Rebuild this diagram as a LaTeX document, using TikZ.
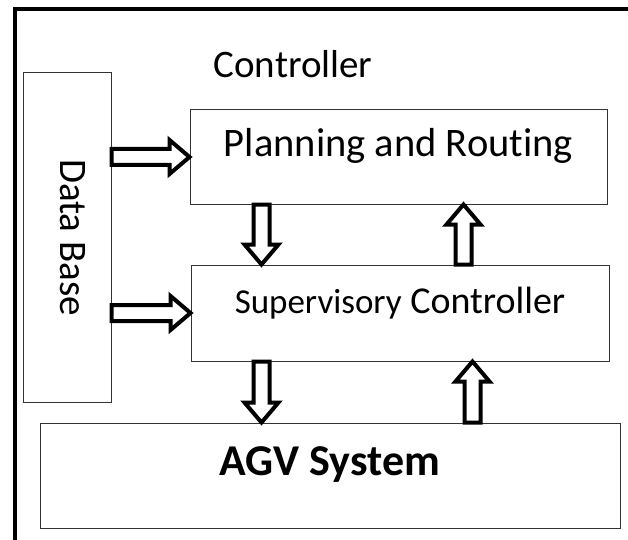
\documentclass[tikz,border=0pt]{standalone}
\usepackage{fontspec}
\setmainfont{Carlito}[Ligatures=NoCommon]
\usetikzlibrary{calc}

\tikzset{
  box/.style={draw=black!80, line width=1pt, inner sep=0pt,
    text height=20pt, text depth=20pt},
  % hollow block arrow between two points
  blockarrow/.style={draw, line width=4pt, fill=white, line join=miter,
    to path={
      ($(\tikztostart)!8pt!90:(\tikztotarget)$)
      -- ($(\tikztotarget)!20pt!(\tikztostart)!8pt!270:(\tikztostart)$)
      -- ($(\tikztotarget)!20pt!(\tikztostart)!17pt!270:(\tikztostart)$)
      -- (\tikztotarget)
      -- ($(\tikztotarget)!20pt!(\tikztostart)!17pt!90:(\tikztostart)$)
      -- ($(\tikztotarget)!20pt!(\tikztostart)!8pt!90:(\tikztostart)$)
      -- ($(\tikztostart)!8pt!270:(\tikztotarget)$)
      -- cycle}}
}

\begin{document}
\begin{tikzpicture}[x=1pt,y=1pt]
	\clip (0,0) rectangle (628,539);
	\fill[white] (0,0) rectangle (628,539);
	% outer frame, runs off the page on the right and bottom
	\draw[line width=4pt] (14.5,-20) rectangle (660,529.5);

	\node[anchor=base west, font=\fontsize{39}{46}\selectfont] (title) at (210,461) {Controller};

	\node[box, rotate=-90, minimum width=329pt, minimum height=88pt,
		text height=26pt, text depth=12pt, font=\fontsize{39}{46}\selectfont] (db) at (67,301.5) {Data Base};
	\node[box, minimum width=417pt, minimum height=94pt,
		font=\fontsize{40.5}{48}\selectfont] (plan) at (398.5,382) {Planning and Routing};
	\node[box, minimum width=418pt, minimum height=96pt,
		font=\fontsize{38}{46}\selectfont] (sup) at (400,226) {{\fontsize{35}{42}\selectfont Supervisory} Controller};
	\node[box, minimum width=580pt, minimum height=105pt,
		font=\fontsize{44}{52}\selectfont\bfseries] (agv) at (330,63.5) {AGV System};

	% data base feeds both controller levels
	\draw[blockarrow] (plan.west -| db.north) to (plan.west);
	\draw[blockarrow] (sup.west -| db.north) to (sup.west);

	\coordinate (pd) at ([xshift=72pt]plan.south west);
	\coordinate (pu) at ([xshift=274pt]plan.south west);
	\coordinate (sd) at ([xshift=71pt]sup.south west);
	\coordinate (su) at ([xshift=282pt]sup.south west);
	\draw[blockarrow] (pd) to (pd |- sup.north);
	\draw[blockarrow] (pu |- sup.north) to (pu);
	\draw[blockarrow] (sd) to (sd |- agv.north);
	\draw[blockarrow] (su |- agv.north) to (su);
\end{tikzpicture}
\end{document}
